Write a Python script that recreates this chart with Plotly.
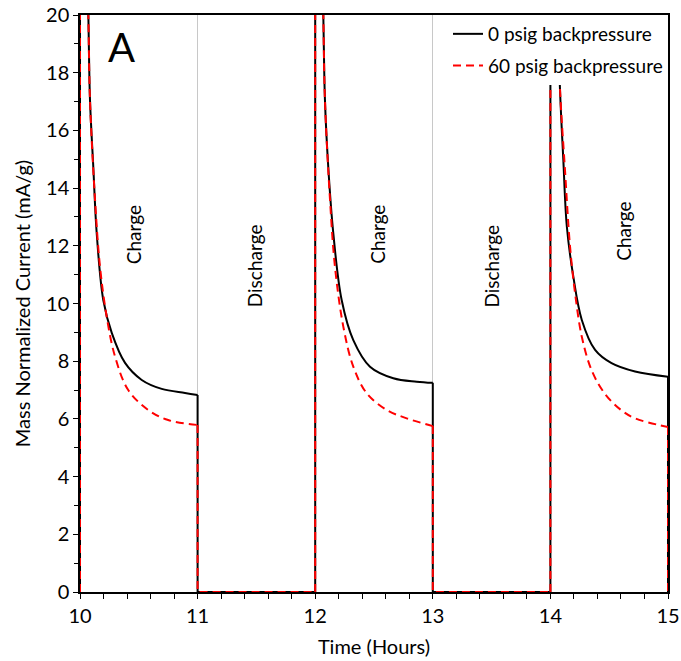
import plotly.graph_objects as go

# values (time in hours, current in mA/g)
# each charge step: vertical rise at its start, decay curve, drop to zero at its end
time_0psig = [
    [10.0, 10.04, 10.071, 10.085, 10.113, 10.142, 10.198, 10.27, 10.383, 10.525, 10.695, 10.893, 11.0],
    [12.0, 12.04, 12.069, 12.083, 12.111, 12.154, 12.225, 12.324, 12.466, 12.664, 12.863, 13.0],
    [14.0, 14.04, 14.068, 14.08, 14.11, 14.14, 14.195, 14.267, 14.38, 14.52, 14.72, 15.0],
]
current_0psig = [
    [35, 26, 20, 17.05, 14.74, 12.44, 10.12, 8.98, 7.94, 7.35, 7.04, 6.90, 6.83],
    [35, 26, 20, 17.05, 14.74, 12.43, 10.12, 8.73, 7.81, 7.41, 7.29, 7.25],
    [35, 26, 20, 17.6, 14.97, 12.66, 10.93, 9.43, 8.39, 7.93, 7.64, 7.46],
]

time_60psig = [
    [10.0, 10.04, 10.071, 10.085, 10.128, 10.17, 10.227, 10.298, 10.41, 10.58, 10.75, 11.0],
    [12.0, 12.04, 12.069, 12.083, 12.126, 12.168, 12.239, 12.324, 12.438, 12.608, 12.778, 13.0],
    [14.0, 14.04, 14.068, 14.08, 14.124, 14.167, 14.21, 14.267, 14.35, 14.46, 14.6, 14.72, 15.0],
]
current_60psig = [
    [35, 26, 20, 17.05, 13.59, 11.28, 9.54, 8.16, 7.0, 6.31, 5.96, 5.79],
    [35, 26, 20, 17.05, 13.59, 11.28, 9.2, 7.81, 6.89, 6.31, 6.02, 5.75],
    [35, 26, 20, 17.6, 14.63, 11.97, 10.35, 8.85, 7.69, 6.89, 6.31, 6.02, 5.72],
]

step_labels = ["Charge", "Discharge", "Charge", "Discharge", "Charge"]
step_label_x = [10.45, 11.49, 12.53, 13.5, 14.62]
step_label_y = [12.4, 11.3, 12.4, 11.3, 12.5]

FONT = "Lato"


def curve_xy(times, currents):
    xs, ys = [], []
    for t, c in zip(times, currents):
        xs += t + [None]
        ys += c + [None]
    return xs, ys


def steps_xy(times, currents):
    # vertical rises/drops at the step boundaries plus the zero line during discharge
    xs, ys = [], []
    for i, (t, c) in enumerate(zip(times, currents)):
        xs += [t[0], t[0], None, t[-1], t[-1]]
        ys += [0, c[0], None, c[-1], 0]
        if i + 1 < len(times):
            xs += [times[i + 1][0]]
            ys += [0]
        xs += [None]
        ys += [None]
    return xs, ys


fig = go.Figure()
series = [
    ("0 psig backpressure", time_0psig, current_0psig, dict(color="black", width=2)),
    ("60 psig backpressure", time_60psig, current_60psig, dict(color="#ff0000", width=2, dash="8px,5px")),
]
for name, times, currents, line in series:
    cx, cy = curve_xy(times, currents)
    fig.add_trace(go.Scatter(x=cx, y=cy, mode="lines", name=name, legendgroup=name,
                             line=dict(shape="spline", smoothing=1.0, **line)))
    sx, sy = steps_xy(times, currents)
    fig.add_trace(go.Scatter(x=sx, y=sy, mode="lines", name=name, legendgroup=name, showlegend=False,
                             line=line))

for label, x, y in zip(step_labels, step_label_x, step_label_y):
    fig.add_annotation(x=x, y=y, text=label, showarrow=False, textangle=-90,
                       font=dict(family=FONT, size=19, color="black"))

fig.add_annotation(x=0.07, y=0.945, xref="paper", yref="paper", xanchor="center", yanchor="middle",
                   text="A", showarrow=False, font=dict(family=FONT, size=40, color="black"))

fig.update_xaxes(range=[10, 15], dtick=1, showgrid=True, gridcolor="#c8c8c8", gridwidth=1,
                 showline=True, linecolor="black", linewidth=1.5, mirror=True, automargin=False,
                 ticks="outside", ticklen=5, tickcolor="black",
                 minor=dict(dtick=0.2, ticks="outside", ticklen=5, tickcolor="black", showgrid=False),
                 zeroline=False, tickfont=dict(family=FONT, size=20, color="black"),
                 title=dict(text="Time (Hours)", font=dict(family=FONT, size=20, color="black"), standoff=14))
fig.update_yaxes(range=[0, 20], dtick=2, showgrid=False,
                 showline=True, linecolor="black", linewidth=1.5, mirror=True, automargin=False,
                 ticks="outside", ticklen=5, tickcolor="black",
                 minor=dict(dtick=1, ticks="outside", ticklen=4, tickcolor="black", showgrid=False),
                 zeroline=False, tickfont=dict(family=FONT, size=20, color="black"),
                 title=dict(text="Mass Normalized Current (mA/g)", font=dict(family=FONT, size=20, color="black"),
                            standoff=10))

fig.update_layout(width=681, height=661, margin=dict(l=80, r=13, t=15, b=69),
                  plot_bgcolor="white", paper_bgcolor="white",
                  legend=dict(x=1, y=1, xanchor="right", yanchor="top", bgcolor="white", borderwidth=0,
                              tracegroupgap=4, font=dict(family=FONT, size=19, color="black")),
                  showlegend=True)

# drop the browser's default 8px body margin so the figure sits at the page corner
fig.write_html("out.html", config={"displayModeBar": False},
               post_script="document.body.style.margin = '0';")
